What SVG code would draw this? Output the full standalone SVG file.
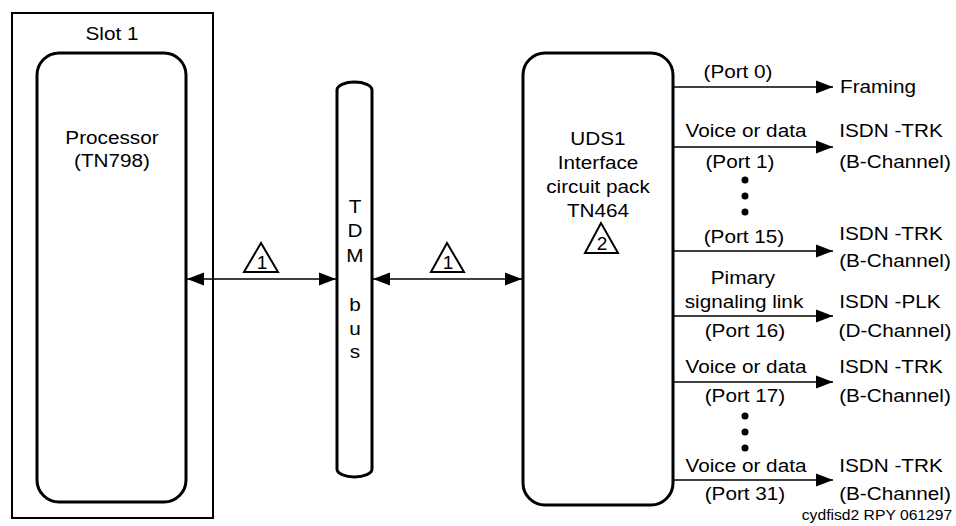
<svg xmlns="http://www.w3.org/2000/svg" width="956" height="526" viewBox="0 0 956 526">
<style>
.t{font-family:"Liberation Sans",Arial,sans-serif;font-size:18.5px;fill:#000;text-anchor:middle;transform-box:fill-box;transform-origin:center;transform:scaleX(1.12)}
.n{font-family:"Liberation Sans",Arial,sans-serif;font-size:19px;fill:#000;text-anchor:middle}
.f{font-family:"Liberation Sans",Arial,sans-serif;font-size:14px;fill:#000;text-anchor:middle;transform-box:fill-box;transform-origin:center;transform:scaleX(1.12)}
.box{fill:none;stroke:#000;stroke-width:3}
.thin{fill:none;stroke:#000;stroke-width:2}
.tri{fill:#fff;stroke:#000;stroke-width:2;stroke-linejoin:miter}
.c{stroke:#000;stroke-width:1.5;fill:none}
.dot{fill:#000}
</style>
<defs>
<marker id="ah" markerWidth="18" markerHeight="14" refX="17" refY="7" orient="auto-start-reverse" markerUnits="userSpaceOnUse">
<path d="M0,0.5 L17,7 L0,13.5 Z" fill="#000"/>
</marker>
</defs>

<g id="slot1">
<rect class="thin" x="12" y="13" width="201" height="505"/>
<text class="t" x="112" y="40">Slot 1</text>
</g>

<g id="processor">
<rect class="box" x="37" y="53" width="149" height="449" rx="22" ry="22"/>
<text class="t" x="112" y="144">Processor</text>
<text class="t" x="112" y="167">(TN798)</text>
</g>

<g id="tdm-bus">
<path class="box" d="M337,90 A17.5,8 0 0 1 372,90 L372,469 A17.5,8 0 0 1 337,469 Z"/>
<text class="t" x="355" y="213">T</text>
<text class="t" x="355" y="237">D</text>
<text class="t" x="355" y="262">M</text>
<text class="t" x="355" y="311">b</text>
<text class="t" x="355" y="335">u</text>
<text class="t" x="355" y="358">s</text>
</g>

<g id="uds1">
<rect class="box" x="523" y="53" width="150" height="452" rx="22" ry="22"/>
<text class="t" x="598" y="145">UDS1</text>
<text class="t" x="598" y="169">Interface</text>
<text class="t" x="598" y="193">circuit pack</text>
<text class="t" x="598" y="217">TN464</text>
<polygon class="tri" points="585,253 601,223 618,253"/>
<text class="n" x="602" y="250">2</text>
</g>

<g id="outputs">
<text class="t" x="878" y="93">Framing</text>
<text class="t" x="891" y="137">ISDN -TRK</text>
<text class="t" x="895" y="168">(B-Channel)</text>
<text class="t" x="891" y="240">ISDN -TRK</text>
<text class="t" x="895" y="267">(B-Channel)</text>
<text class="t" x="890" y="308">ISDN -PLK</text>
<text class="t" x="895" y="337">(D-Channel)</text>
<text class="t" x="891" y="373">ISDN -TRK</text>
<text class="t" x="895" y="402">(B-Channel)</text>
<text class="t" x="891" y="472">ISDN -TRK</text>
<text class="t" x="895" y="500">(B-Channel)</text>
</g>

<g id="connectors">
<line class="c" x1="187" y1="279" x2="336" y2="279" marker-start="url(#ah)" marker-end="url(#ah)"/>
<polygon class="tri" points="244,272 261,243 278,272"/>
<text class="n" x="262" y="269">1</text>
<line class="c" x1="373" y1="279" x2="522" y2="279" marker-start="url(#ah)" marker-end="url(#ah)"/>
<polygon class="tri" points="431,272 447,243 464,272"/>
<text class="n" x="448" y="269">1</text>

<line class="c" x1="674" y1="87" x2="833" y2="87" marker-end="url(#ah)"/>
<text class="t" x="738" y="78">(Port 0)</text>

<line class="c" x1="674" y1="147" x2="833" y2="147" marker-end="url(#ah)"/>
<text class="t" x="746" y="137">Voice or data</text>
<text class="t" x="740" y="168">(Port 1)</text>
<circle class="dot" cx="745" cy="180" r="3.5"/>
<circle class="dot" cx="745" cy="196" r="3.5"/>
<circle class="dot" cx="745" cy="212" r="3.5"/>

<line class="c" x1="674" y1="251" x2="833" y2="251" marker-end="url(#ah)"/>
<text class="t" x="744" y="243">(Port 15)</text>

<line class="c" x1="674" y1="316" x2="833" y2="316" marker-end="url(#ah)"/>
<text class="t" x="743" y="284">Pimary</text>
<text class="t" x="744" y="308">signaling link</text>
<text class="t" x="745" y="337">(Port 16)</text>

<line class="c" x1="674" y1="382" x2="833" y2="382" marker-end="url(#ah)"/>
<text class="t" x="746" y="373">Voice or data</text>
<text class="t" x="745" y="402">(Port 17)</text>
<circle class="dot" cx="745" cy="416" r="3.5"/>
<circle class="dot" cx="745" cy="432" r="3.5"/>
<circle class="dot" cx="745" cy="448" r="3.5"/>

<line class="c" x1="674" y1="480" x2="833" y2="480" marker-end="url(#ah)"/>
<text class="t" x="746" y="472">Voice or data</text>
<text class="t" x="745" y="500">(Port 31)</text>
</g>

<text class="f" x="877" y="520">cydfisd2 RPY 061297</text>
</svg>
